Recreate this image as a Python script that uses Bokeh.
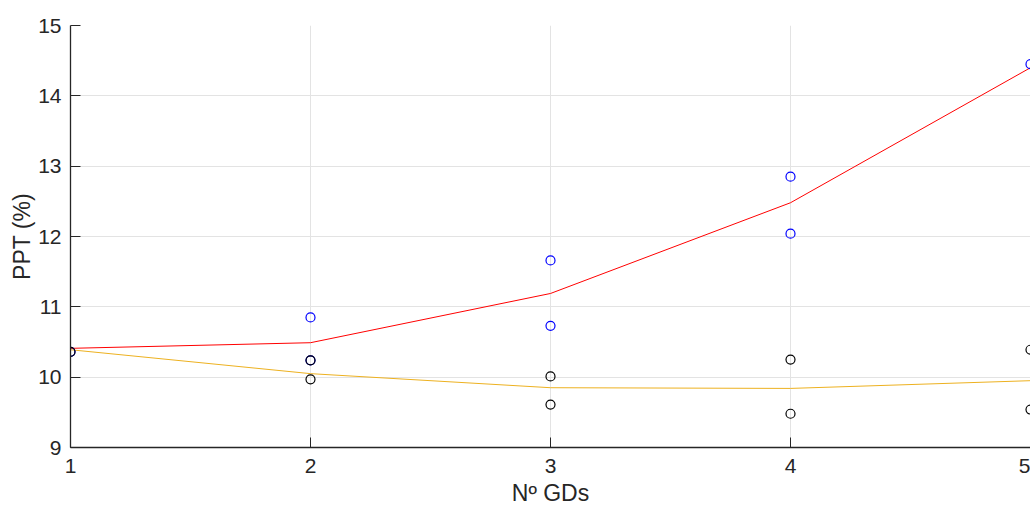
from bokeh.plotting import figure
from bokeh.models import Range1d, FixedTicker
from bokeh.embed import file_html
from bokeh.resources import INLINE

# Data
n_gds = [1, 2, 3, 4, 5]
blue_x = [1, 2, 2, 3, 3, 4, 4, 5]
blue_y = [10.36, 10.85, 10.24, 11.66, 10.73, 12.85, 12.04, 14.45]
black_x = [1, 2, 2, 3, 3, 4, 4, 5, 5]
black_y = [10.36, 10.24, 9.97, 10.01, 9.61, 10.25, 9.48, 10.39, 9.54]
red_line = [10.41, 10.49, 11.19, 12.48, 14.40]
orange_line = [10.39, 10.05, 9.85, 9.84, 9.95]
y_ticks = [9, 10, 11, 12, 13, 14, 15]

FONT = "Liberation Sans"

p = figure(width=1030, height=508, output_backend="svg", toolbar_location=None,
           x_range=Range1d(1, 5), y_range=Range1d(9, 15),
           min_border_left=70, min_border_right=0, min_border_top=25, min_border_bottom=61)
p.outline_line_color = None
p.background_fill_color = "white"
p.border_fill_color = "white"

p.line(n_gds, red_line, line_color="#ff0000", line_width=1)
p.line(n_gds, orange_line, line_color="#EDB120", line_width=1)
p.scatter(blue_x, blue_y, marker="circle", size=9, fill_color=None,
          line_color="#0000ff", line_width=1.2)
p.scatter(black_x, black_y, marker="circle", size=9, fill_color=None,
          line_color="#000000", line_width=1.2)

p.xaxis.ticker = FixedTicker(ticks=n_gds)
p.yaxis.ticker = FixedTicker(ticks=y_ticks)
for ax in (p.xaxis[0], p.yaxis[0]):
    ax.axis_line_color = "#262626"
    ax.axis_line_width = 1.3
    ax.major_tick_line_color = "#262626"
    ax.major_tick_in = 10
    ax.major_tick_out = 0
    ax.minor_tick_line_color = None
    ax.major_label_text_font = FONT
    ax.major_label_text_font_size = "21px"
    ax.major_label_text_color = "#262626"
    ax.axis_label_text_font = FONT
    ax.axis_label_text_font_size = "23px"
    ax.axis_label_text_font_style = "normal"
    ax.axis_label_text_color = "#262626"
p.xaxis.axis_label = "Nº GDs"
p.yaxis.axis_label = "PPT (%)"
p.xaxis.major_label_standoff = 11
p.yaxis.major_label_standoff = 9
p.xaxis.axis_label_standoff = 4
p.yaxis.axis_label_standoff = 0

p.xgrid.grid_line_color = "#e3e3e3"
p.ygrid.grid_line_color = "#e3e3e3"
p.xgrid.grid_line_width = 1
p.ygrid.grid_line_width = 1

open("out.html", "w").write(file_html(p, INLINE))
